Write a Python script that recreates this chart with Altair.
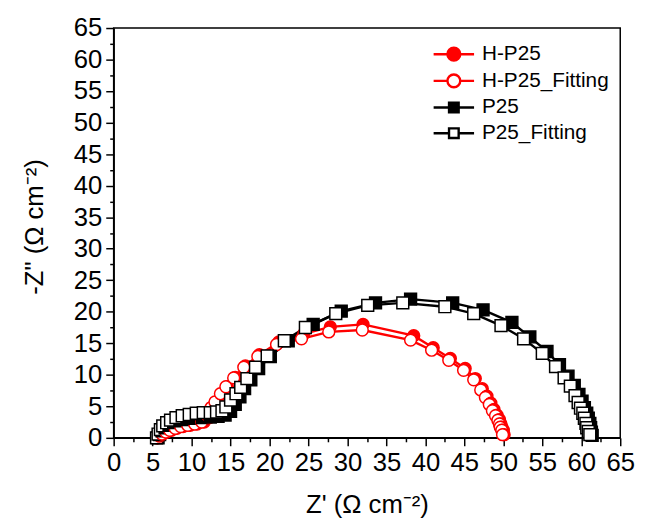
import altair as alt
import pandas as pd

series_names = ["H-P25", "H-P25_Fitting", "P25", "P25_Fitting"]
stroke_colors = ["#ff0000", "#ff0000", "#000000", "#000000"]
fill_colors = ["#ff0000", "#ffffff", "#000000", "#ffffff"]
marker_shapes = ["circle", "circle", "square", "square"]

hp25_x = [5.6, 5.9, 6.3, 6.8, 7.4, 8.1, 8.9, 9.8, 10.7, 11.6, 12.3, 12.8, 13.3, 13.9, 14.6,
          15.6, 16.9, 18.7, 21.2, 24.4, 27.8, 32.0, 38.5, 41.0, 43.2, 45.1, 46.4, 47.3,
          47.9, 48.4, 48.8, 49.2, 49.5, 49.7, 49.8, 50.0, 50.1]
hp25_y = [0.0, 0.3, 0.6, 0.9, 1.2, 1.5, 1.8, 2.0, 2.2, 2.5, 3.2, 4.3, 5.6, 6.9, 8.1,
          9.6, 11.4, 13.2, 15.2, 16.5, 17.6, 18.0, 16.2, 14.3, 12.6, 11.0, 9.4, 7.8,
          6.6, 5.5, 4.5, 3.6, 2.9, 2.2, 1.7, 1.2, 0.5]

hp25fit_x = [5.6, 5.9, 6.2, 6.7, 7.2, 7.9, 8.6, 9.5, 10.4, 11.3, 12.0, 12.5, 13.0, 13.7, 14.4,
             15.4, 16.7, 18.5, 20.9, 24.1, 27.6, 31.9, 38.1, 40.8, 43.0, 44.9, 46.2, 47.1,
             47.7, 48.2, 48.6, 49.0, 49.3, 49.5, 49.6, 49.8, 49.9]
hp25fit_y = [0.0, 0.3, 0.6, 0.9, 1.2, 1.5, 1.8, 2.0, 2.2, 2.5, 3.6, 4.8, 5.7, 7.0, 8.1,
             9.5, 11.2, 12.9, 14.8, 15.7, 16.8, 17.1, 15.5, 13.9, 12.3, 10.7, 9.2, 7.6,
             6.4, 5.3, 4.3, 3.5, 2.8, 2.2, 1.7, 1.2, 0.5]

p25_x = [5.7, 5.9, 6.2, 6.6, 7.1, 7.7, 8.5, 9.4, 10.4, 11.4, 12.4, 13.4, 14.3, 15.0, 15.6,
         16.2, 16.8, 17.6, 18.6, 20.1, 22.4, 25.6, 29.2, 33.6, 38.1, 43.5, 47.4, 51.1,
         53.4, 55.6, 57.2, 58.3, 59.1, 59.7, 60.1, 60.4, 60.7, 60.9, 61.1, 61.2, 61.3, 61.4]
p25_y = [0.0, 0.5, 1.1, 1.6, 2.0, 2.4, 2.7, 2.9, 3.1, 3.2, 3.3, 3.4, 3.6, 4.2, 5.3,
         6.5, 7.8, 9.2, 11.0, 12.9, 15.4, 18.0, 20.1, 21.4, 22.0, 21.4, 20.3, 18.3,
         16.0, 13.7, 11.6, 9.8, 8.3, 6.9, 5.8, 4.8, 3.9, 3.1, 2.3, 1.6, 0.9, 0.4]

p25fit_x = [5.5, 5.7, 6.0, 6.3, 6.8, 7.3, 8.0, 8.8, 9.7, 10.6, 11.5, 12.4, 13.2, 13.9, 14.4,
            15.0, 15.7, 16.3, 17.1, 18.2, 19.7, 21.9, 24.6, 28.5, 32.6, 37.1, 42.5, 46.2,
            49.7, 52.6, 55.0, 56.7, 57.8, 58.6, 59.2, 59.6, 59.9, 60.2, 60.4, 60.6, 60.7,
            60.9, 61.1]
p25fit_y = [0.0, 0.6, 1.3, 1.9, 2.4, 2.8, 3.2, 3.5, 3.7, 3.9, 4.0, 4.0, 4.1, 4.3, 4.9,
            6.0, 7.0, 8.0, 9.4, 11.2, 13.0, 15.4, 17.5, 19.7, 21.0, 21.4, 20.8, 19.7,
            17.8, 15.7, 13.4, 11.3, 9.5, 8.2, 6.7, 5.6, 4.7, 3.9, 3.1, 2.3, 1.6,
            1.0, 0.5]

major_ticks = [i * 5 for i in range(14)]
minor_ticks = [i * 5 + 2.5 for i in range(13)]

rows = []
for name, xs, ys in [
    ("H-P25", hp25_x, hp25_y),
    ("H-P25_Fitting", hp25fit_x, hp25fit_y),
    ("P25", p25_x, p25_y),
    ("P25_Fitting", p25fit_x, p25fit_y),
]:
    for i, (xv, yv) in enumerate(zip(xs, ys)):
        rows.append({"series": name, "zr": xv, "zi": yv, "idx": i})
df = pd.DataFrame(rows)

FONT = "Liberation Sans"

x_scale = alt.Scale(domain=[0, 65], nice=False, zero=False)
y_scale = alt.Scale(domain=[0, 65], nice=False, zero=False)

x_major = alt.Axis(values=major_ticks, orient="bottom", labelOverlap=False, labelFlush=False,
                   tickSize=8, labelPadding=4, title="Z' (Ω cm⁻²)", titlePadding=17)
y_major = alt.Axis(values=major_ticks, orient="left", labelOverlap=False, labelFlush=False,
                   tickSize=8, labelPadding=4, title='-Z" (Ω cm⁻²)', titlePadding=26,
                   titleY=201)
x_minor = alt.Axis(values=minor_ticks, orient="bottom", labels=False, domain=False,
                   tickSize=4, title=None)
y_minor = alt.Axis(values=minor_ticks, orient="left", labels=False, domain=False,
                   tickSize=4, title=None)

# legend symbols: line segment with marker in the middle
circle_path = "M-3.15,0L-1,0M1,0L3.15,0M1,0A1,1 0 1,1 -1,0A1,1 0 1,1 1,0Z"
square_path = "M-3.15,0L-0.75,0M0.75,0L3.15,0M-0.75,-0.75L0.75,-0.75L0.75,0.75L-0.75,0.75Z"
legend_shapes = [circle_path, circle_path, square_path, square_path]

lines = alt.Chart(df).mark_line(strokeWidth=2.4).encode(
    x=alt.X("zr:Q", scale=x_scale, axis=x_major),
    y=alt.Y("zi:Q", scale=y_scale, axis=y_major),
    stroke=alt.Stroke("series:N", scale=alt.Scale(domain=series_names, range=stroke_colors), legend=None),
    order="idx:Q",
)

points = alt.Chart(df).mark_point(strokeWidth=1.5, opacity=1).encode(
    x=alt.X("zr:Q", scale=x_scale, axis=x_minor),
    y=alt.Y("zi:Q", scale=y_scale, axis=y_minor),
    stroke=alt.Stroke("series:N", scale=alt.Scale(domain=series_names, range=stroke_colors), legend=None),
    fill=alt.Fill("series:N", scale=alt.Scale(domain=series_names, range=fill_colors), legend=None),
    shape=alt.Shape("series:N", scale=alt.Scale(domain=series_names, range=marker_shapes), legend=None),
    size=alt.Size("series:N", scale=alt.Scale(domain=series_names, range=[144, 144, 110, 110]), legend=None),
    order="idx:Q",
)

legend = alt.Legend(
    title=None, orient="none", legendX=334, legendY=16,
    labelFont=FONT, labelFontSize=21, labelColor="black", labelOffset=18,
    symbolSize=169, symbolStrokeWidth=2.4, rowPadding=4, symbolOpacity=1,
)

legend_layer = alt.Chart(df).transform_filter("false").mark_point(
    strokeWidth=2.4, opacity=1, size=169
).encode(
    stroke=alt.Stroke("series:N", scale=alt.Scale(domain=series_names, range=stroke_colors), legend=legend),
    fill=alt.Fill("series:N", scale=alt.Scale(domain=series_names, range=fill_colors), legend=legend),
    shape=alt.Shape("series:N", scale=alt.Scale(domain=series_names, range=legend_shapes), legend=legend),
)

chart = alt.layer(lines, points, legend_layer).resolve_axis(
    x="independent", y="independent"
).resolve_scale(
    stroke="independent", fill="independent", shape="independent", size="independent"
).properties(
    width=513, height=415,
    background="white",
    autosize=alt.AutoSizeParams(type="none"),
    padding={"left": 107, "top": 17, "right": 19, "bottom": 86},
).configure_view(
    stroke="black", strokeWidth=1.5
).configure_axis(
    grid=False, domainColor="black", domainWidth=1.5, tickColor="black", tickWidth=1.5,
    labelFont=FONT, labelFontSize=26, labelColor="black",
    titleFont=FONT, titleFontSize=26, titleFontWeight="normal", titleColor="black",
)

chart.save("out.html", embed_options={"renderer": "svg", "actions": False})
